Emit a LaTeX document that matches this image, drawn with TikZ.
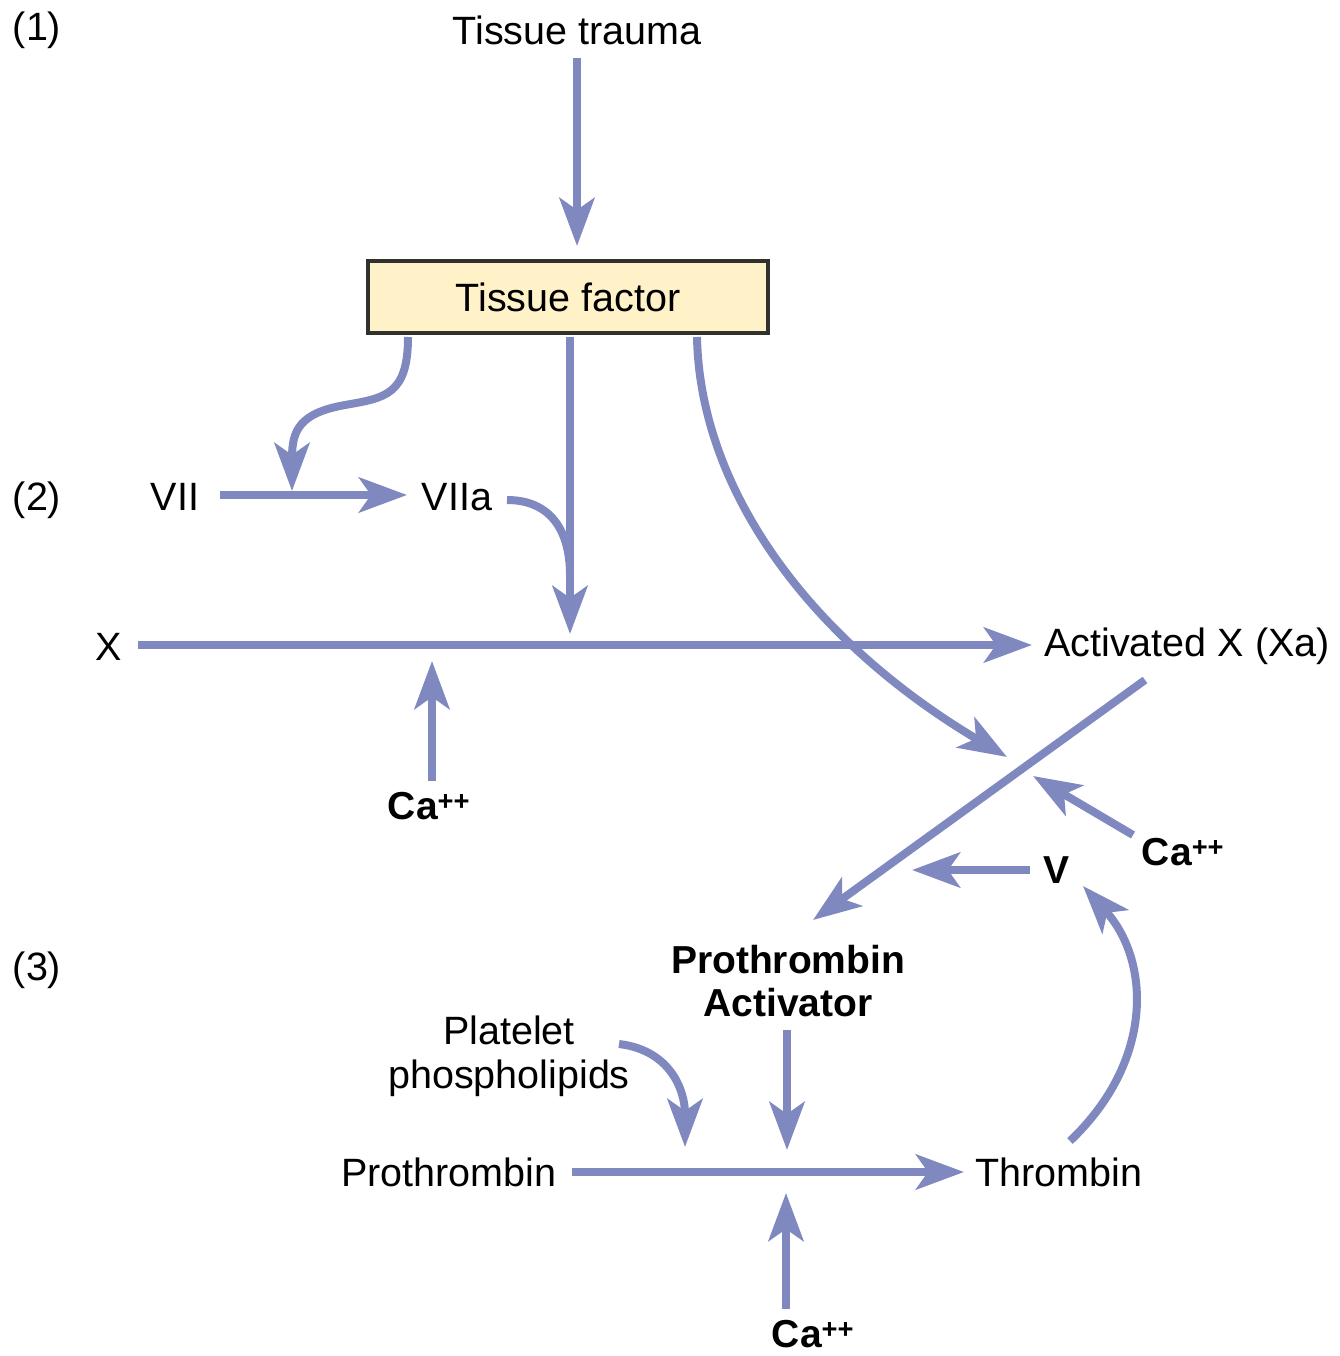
\documentclass[tikz,border=0pt]{standalone}
\usepackage{fontspec}
\setmainfont{Liberation Sans}
\usetikzlibrary{arrows.meta}
\definecolor{arr}{RGB}{128,136,192}
\definecolor{boxfill}{RGB}{255,242,200}
\definecolor{boxline}{RGB}{50,50,45}
\begin{document}
\begin{tikzpicture}[x=1pt,y=-1pt,
  lbl/.style={inner sep=0pt, font=\fontsize{39.5}{46}\selectfont},
  blbl/.style={inner sep=0pt, font=\fontsize{39}{45}\selectfont\bfseries, align=center},
  conn/.style={draw=arr, line width=8pt, -{Stealth[length=48pt,width=35pt,inset=12pt]}},
  plain/.style={draw=arr, line width=8pt},
  tfbox/.style={draw=boxline, line width=4pt, fill=boxfill, minimum width=400pt, minimum height=72pt, inner sep=0pt, font=\fontsize{39.5}{46}\selectfont}]
\useasboundingbox (0,0) rectangle (1339,1356);
% labels
\node[lbl] (n1) at (37,30) {(1)};
\node[lbl] (n2) at (37,500) {(2)};
\node[lbl] (n3) at (37,970) {(3)};
\node[lbl] (trauma) at (577,30) {Tissue trauma};
\node[tfbox] (tf) at (568,297) {Tissue factor};
\node[lbl] (vii) at (175,497) {VII};
\node[lbl] (viia) at (457,497) {VIIa};
\node[lbl] (x) at (109,647) {X};
\node[lbl] (xa) at (1187,646) {Activated X (Xa)};
\node[blbl] (ca1) at (429,806) {Ca\textsuperscript{++}};
\node[blbl] (ca2) at (1183,852) {Ca\textsuperscript{++}};
\node[blbl] (v) at (1056,870) {V};
\node[blbl] (pa) at (788,981) {Prothrombin\\[-2pt]Activator};
\node[lbl, align=center] (pp) at (509,1056) {Platelet\\[-2pt]phospholipids};
\node[lbl] (pro) at (449,1172) {Prothrombin};
\node[lbl] (thr) at (1059,1172) {Thrombin};
\node[blbl] (ca3) at (813,1334) {Ca\textsuperscript{++}};
% coordinates
\coordinate (ttS) at (577,58);
\coordinate (ttE) at (577,246);
\coordinate (tfL) at (408,337);
\coordinate (tfM) at (570,337);
\coordinate (tfR) at (697,337);
\coordinate (viiS) at (220,495);
\coordinate (viiE) at (407,495);
\coordinate (jA) at (292,491);
\coordinate (viiaS) at (507,500);
\coordinate (jB) at (570,575);
\coordinate (jX) at (570,634);
\coordinate (xS) at (138,645);
\coordinate (xE) at (1032,645);
\coordinate (ca1S) at (432,781);
\coordinate (ca1E) at (432,661);
\coordinate (jP) at (1007,757);
\coordinate (xaS) at (1145,680);
\coordinate (paE) at (813,920);
\coordinate (ca2S) at (1133,835);
\coordinate (ca2E) at (1033,776);
\coordinate (vS) at (1030,870);
\coordinate (vE) at (912,870);
\coordinate (thS) at (1070,1141);
\coordinate (thE) at (1083,886);
\coordinate (paS) at (787,1030);
\coordinate (paJ) at (787,1150);
\coordinate (ppS) at (619,1044);
\coordinate (ppJ) at (685,1147);
\coordinate (proS) at (572,1172);
\coordinate (proE) at (964,1172);
\coordinate (ca3S) at (786,1309);
\coordinate (ca3E) at (786,1193);
% connectors
\draw[conn] (ttS) -- (ttE);
\draw[conn] (tfL) .. controls (408,395) and (385,398) .. (345,405) .. controls (300,413) and (292,430) .. (jA);
\draw[conn] (viiS) -- (viiE);
\draw[conn] (tfM) -- (jX);
\draw[plain] (viiaS) .. controls (550,500) and (570,530) .. (jB);
\draw[conn] (xS) -- (xE);
\draw[conn] (ca1S) -- (ca1E);
\draw[conn] (tfR) .. controls (700,490) and (810,640) .. (jP);
\draw[conn] (xaS) -- (paE);
\draw[conn] (ca2S) -- (ca2E);
\draw[conn] (vS) -- (vE);
\draw[conn] (thS) .. controls (1155,1060) and (1150,960) .. (thE);
\draw[conn] (paS) -- (paJ);
\draw[conn] (ppS) .. controls (670,1050) and (685,1090) .. (ppJ);
\draw[conn] (proS) -- (proE);
\draw[conn] (ca3S) -- (ca3E);
\end{tikzpicture}
\end{document}
